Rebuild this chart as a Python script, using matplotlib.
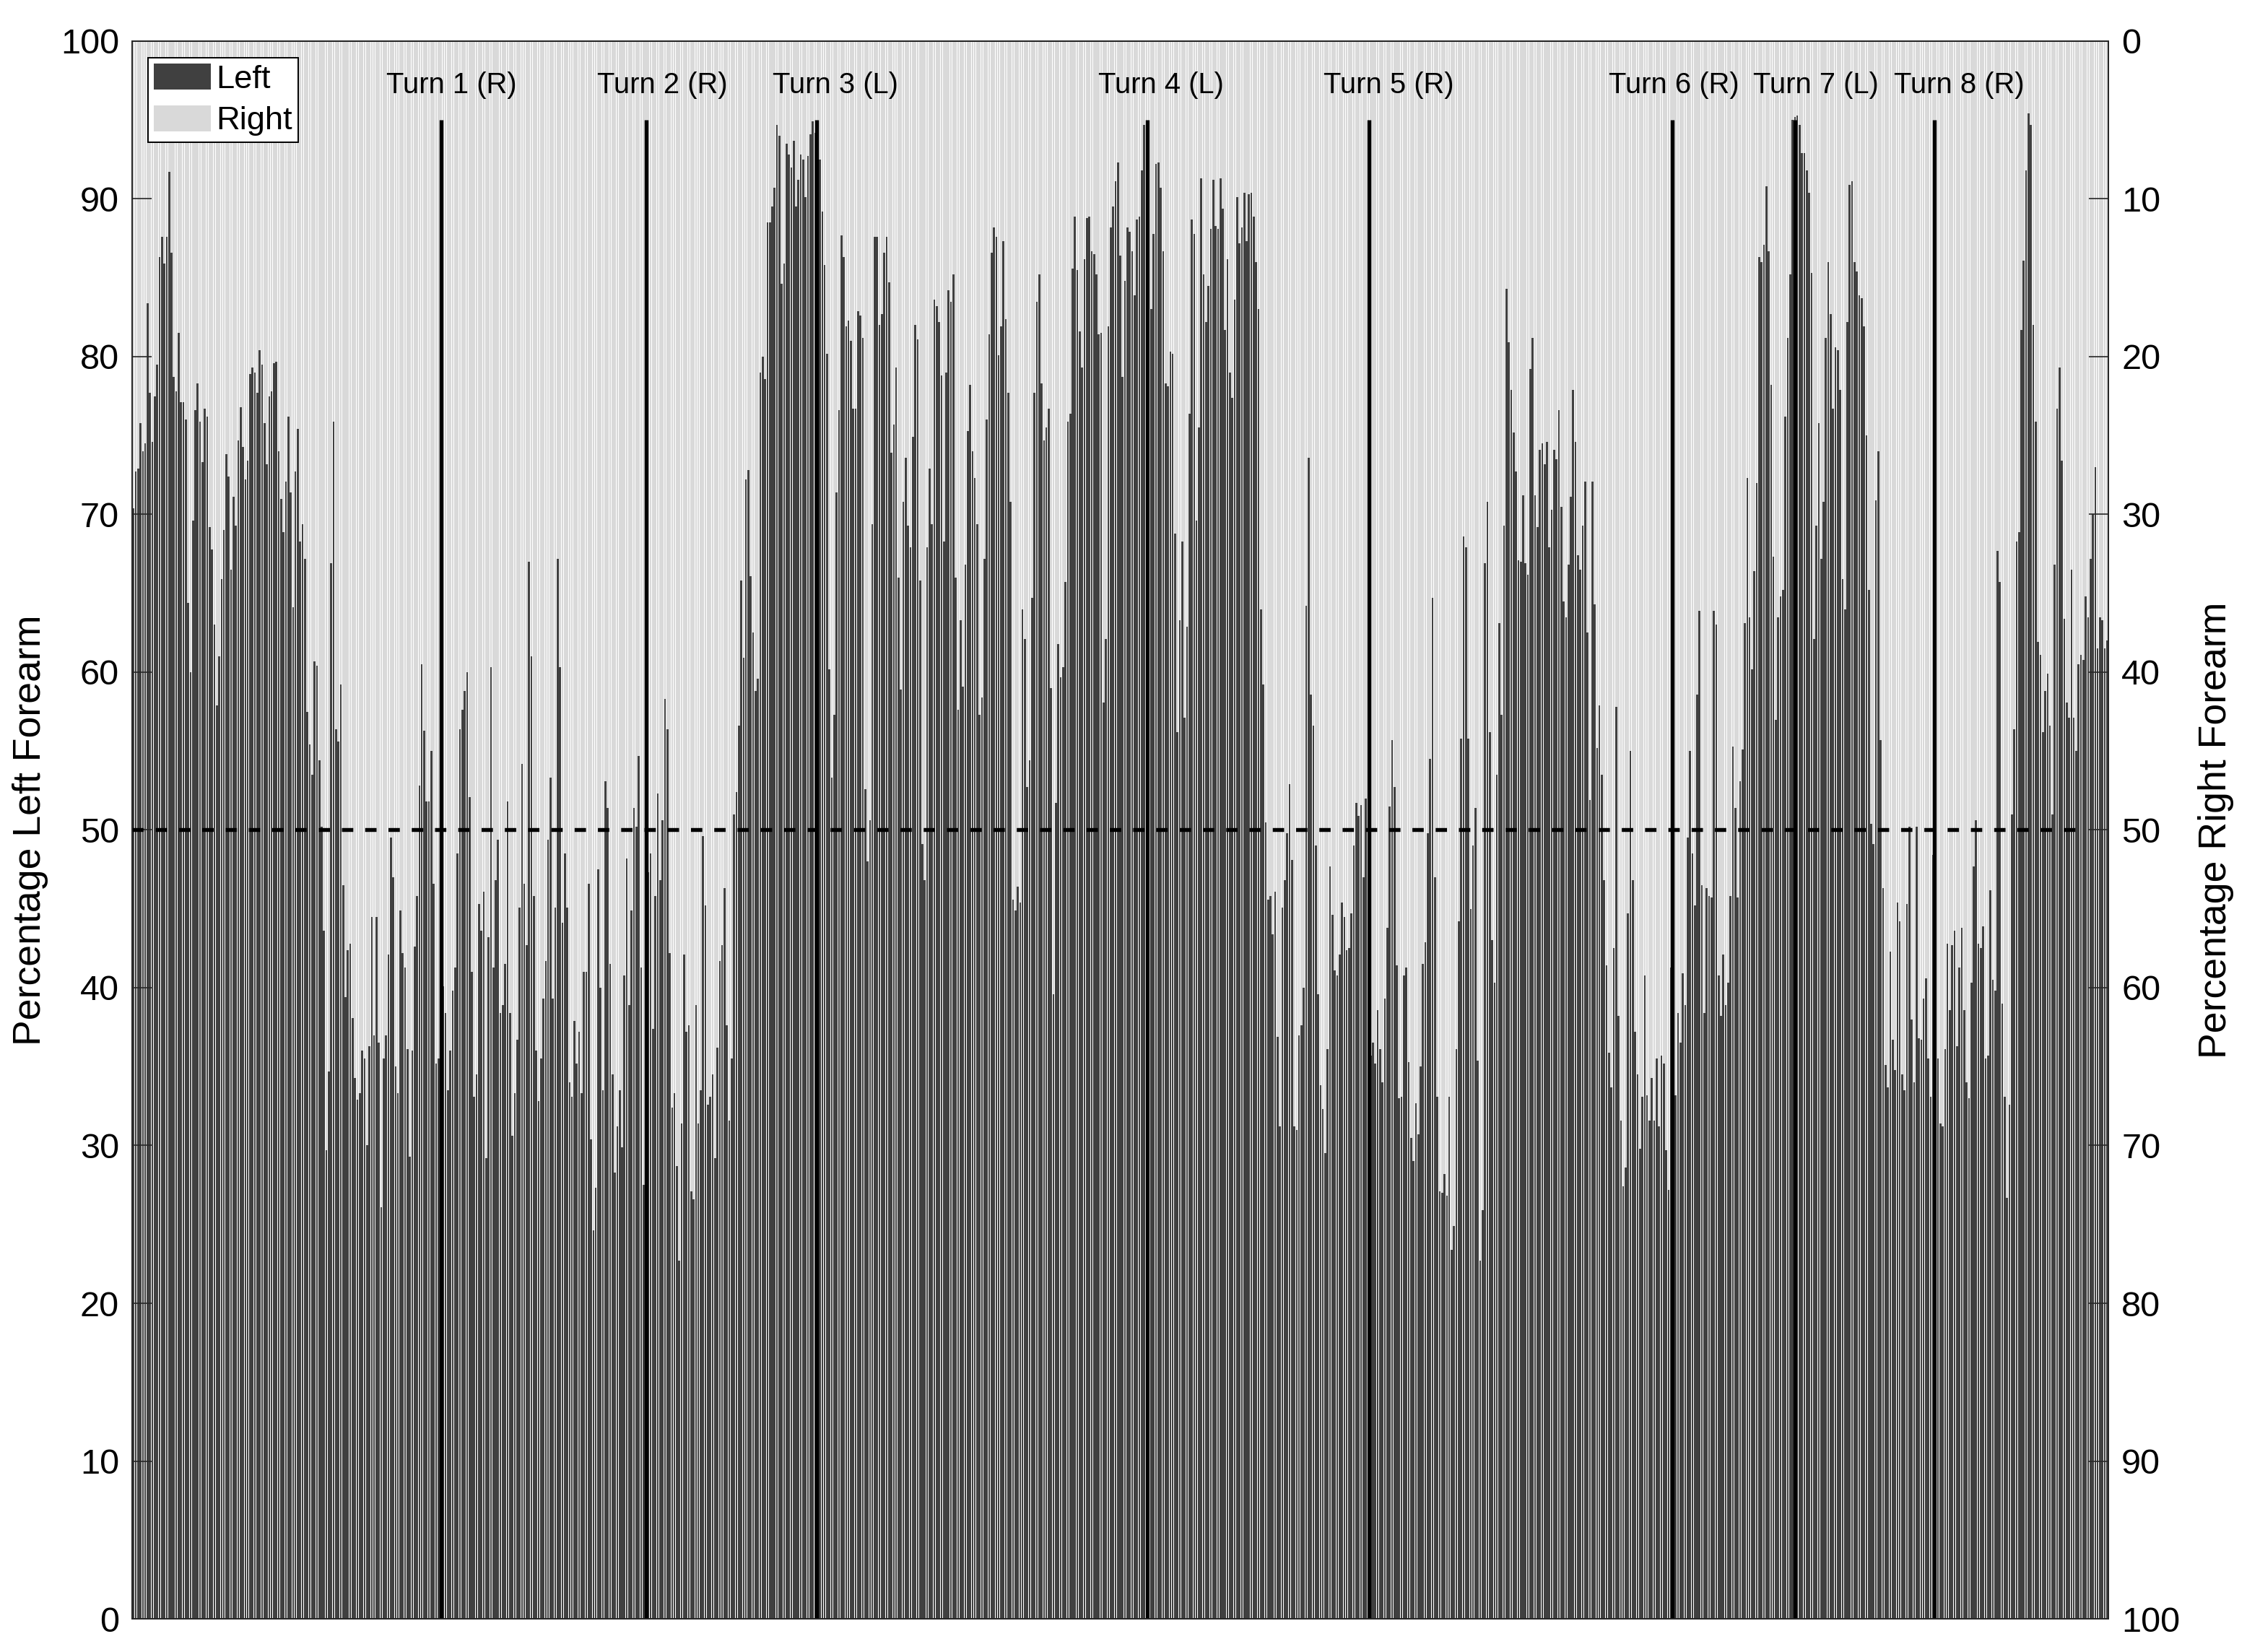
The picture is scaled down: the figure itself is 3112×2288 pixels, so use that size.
import matplotlib
matplotlib.use("Agg")
import matplotlib.pyplot as plt
import numpy as np

# Percentage of left forearm for each sample, grouped by the turns that separate them
seg0 = [70.4, 72.7, 72.9, 75.8, 74.0, 74.5, 83.4, 77.7, 74.6, 77.5,
        79.5, 86.3, 87.6, 85.9, 87.6, 91.7, 86.6, 78.7, 77.8, 81.5,
        77.1, 77.1, 76.0, 64.4, 60.0, 69.6, 76.6, 78.3, 75.9, 73.3,
        76.7, 76.2, 69.2, 67.8, 63.0, 57.9, 61.0, 65.9, 69.0, 73.8,
        72.4, 66.5, 71.1, 69.3, 74.7, 76.8, 74.3, 72.2, 73.4, 78.9,
        79.3, 79.0, 77.7, 80.4, 79.5, 75.8, 73.2, 77.5, 77.8, 79.6,
        79.7, 74.0, 71.0, 68.9, 72.1, 76.2, 71.4, 64.1, 72.7, 75.4,
        68.3, 69.4, 67.2, 57.5, 55.4, 53.5, 60.7, 60.4, 54.4, 50.2,
        43.6, 29.7, 34.7, 66.9, 75.9, 56.4, 55.6, 59.2, 46.5, 39.4,
        42.4, 42.8, 38.1, 34.3, 32.9, 33.3, 36.0, 35.5, 30.0, 36.3,
        44.5, 37.0, 44.5, 36.5, 26.1, 35.5, 37.0, 42.1, 49.5, 47.0,
        35.0, 33.3, 44.9, 42.2, 41.3, 36.1, 29.3, 36.0, 42.6, 45.8,
        52.8, 60.5, 56.3, 51.8, 51.8, 55.0, 46.6, 35.2, 35.5, 36.1]
seg1 = [40.1, 38.4, 33.5, 36.0, 39.8, 41.3, 48.5, 56.4, 57.6, 58.8,
        60.0, 52.1, 41.0, 33.1, 34.5, 45.3, 43.6, 46.1, 29.2, 43.2,
        60.3, 41.3, 46.8, 49.4, 38.4, 38.9, 41.5, 51.8, 38.4, 30.6,
        33.3, 36.7, 45.1, 54.2, 46.6, 42.7, 67.0, 61.0, 45.8, 36.0,
        32.8, 35.5, 39.3, 41.7, 49.4, 53.3, 39.3, 45.1, 67.2, 60.3,
        44.1, 48.5, 45.1, 34.0, 33.1, 37.9, 35.2, 37.2, 33.3, 41.0,
        41.0, 46.6, 30.4, 24.6, 27.3, 47.5, 40.0, 33.5, 53.1, 51.4,
        41.5, 34.5, 28.3, 31.2, 33.5, 29.9, 40.8, 48.2, 38.9, 44.9,
        51.4, 50.2, 54.7, 41.3, 27.5]
seg2 = [51.6, 47.3, 48.5, 37.4, 45.8, 52.3, 46.8, 50.6, 58.3, 56.4,
        42.2, 32.4, 33.3, 28.7, 22.7, 31.4, 42.1, 37.2, 37.6, 27.1,
        26.6, 38.9, 31.4, 33.5, 49.6, 45.2, 32.6, 33.1, 34.5, 29.2,
        36.2, 41.7, 42.7, 46.3, 37.6, 31.6, 35.5, 51.0, 52.4, 56.6,
        65.8, 60.9, 72.2, 72.8, 66.1, 62.5, 58.8, 59.6, 79.0, 80.0,
        78.6, 88.5, 88.5, 89.5, 90.7, 94.7, 94.0, 84.6, 85.9, 93.5,
        92.8, 92.0, 93.7, 89.5, 91.2, 92.8, 92.5, 90.1, 92.7, 94.1,
        94.9, 94.2]
seg3 = [94.7, 92.5, 89.2, 85.8, 80.2, 60.2, 53.3, 57.3, 71.4, 76.6,
        87.7, 86.3, 81.9, 82.3, 81.0, 76.7, 76.7, 82.9, 82.6, 81.2,
        52.6, 48.0, 50.6, 69.4, 87.6, 87.6, 82.0, 82.7, 86.6, 87.6,
        84.7, 73.9, 75.7, 79.3, 66.0, 58.9, 70.8, 73.6, 69.3, 67.9,
        74.9, 82.0, 81.1, 65.8, 49.1, 46.8, 67.9, 72.9, 69.4, 83.6,
        83.2, 82.2, 78.8, 68.3, 79.0, 84.2, 83.5, 85.2, 66.0, 57.6,
        63.3, 59.1, 66.8, 75.3, 78.2, 74.0, 72.3, 69.4, 57.3, 58.4,
        67.2, 76.0, 81.4, 86.6, 88.2, 87.6, 80.1, 81.9, 87.3, 82.4,
        77.7, 70.8, 45.6, 44.9, 46.4, 45.4, 64.0, 62.1, 52.7, 54.4,
        64.7, 77.7, 83.5, 85.2, 78.3, 74.7, 75.5, 76.7, 59.0, 39.6,
        51.7, 61.8, 59.7, 60.3, 65.7, 75.9, 76.4, 85.6, 88.9, 85.5,
        81.6, 79.3, 86.2, 88.8, 88.9, 86.7, 86.5, 85.2, 81.4, 81.5,
        58.1, 62.1, 81.9, 88.2, 89.5, 91.1, 92.3, 86.4, 78.7, 84.8,
        88.2, 87.9, 86.7, 83.9, 88.7, 88.9, 91.8, 94.7]
seg4 = [91.6, 90.8, 83.0, 87.8, 92.2, 92.3, 90.7, 86.7, 78.3, 78.1,
        80.3, 80.2, 68.8, 56.2, 63.3, 68.3, 57.1, 62.9, 76.4, 88.7,
        87.8, 69.6, 75.5, 91.3, 85.2, 82.2, 84.5, 88.1, 91.2, 88.3,
        88.1, 91.3, 89.4, 81.7, 86.2, 79.0, 77.4, 83.6, 90.1, 87.2,
        88.2, 90.4, 87.3, 90.3, 90.4, 88.9, 86.0, 83.0, 64.0, 59.2,
        50.5, 45.6, 45.8, 43.4, 46.1, 36.9, 31.2, 45.1, 46.8, 49.8,
        52.9, 48.1, 31.2, 31.0, 37.0, 37.6, 40.0, 64.2, 73.6, 58.6,
        56.6, 49.0, 39.6, 33.8, 32.3, 29.5, 36.1, 47.7, 44.6, 41.1,
        40.8, 42.1, 45.4, 44.5, 42.4, 42.5, 44.7, 49.0, 51.7, 50.9,
        51.6, 47.0, 52.0]
seg5 = [36.2, 35.7, 36.5, 35.2, 38.6, 36.1, 34.0, 39.3, 43.8, 51.5,
        55.7, 52.7, 41.4, 33.0, 33.1, 40.8, 41.3, 35.3, 30.5, 29.0,
        32.7, 30.7, 35.0, 41.5, 42.9, 49.8, 54.5, 64.7, 47.0, 33.1,
        27.1, 27.0, 28.2, 26.8, 33.1,
        23.4, 24.9, 36.1, 44.2, 55.8, 68.6, 67.9, 55.8, 45.0, 49.0,
        51.4, 35.4, 22.7, 25.9, 66.9, 70.8, 56.2, 43.0, 40.3, 53.5,
        63.1, 57.3, 69.3, 84.3, 80.9, 77.9, 75.2, 72.7, 67.1, 67.0,
        71.2, 66.9, 66.2, 79.2, 81.2, 71.2, 69.2, 74.1, 74.5, 73.2,
        74.6, 67.9, 70.3, 74.1, 73.5, 76.6, 70.5, 64.5, 63.5, 66.8,
        71.1, 77.9, 74.6, 67.4, 66.5, 69.3, 72.1, 62.5, 51.9, 72.1,
        64.3, 55.2, 57.9, 53.5, 46.8, 41.4, 35.9, 33.7, 42.5, 57.8,
        38.2, 31.6, 27.4, 28.6, 44.7, 55.0, 46.8, 37.2, 34.5, 29.8,
        33.1, 40.8, 33.2, 31.6, 34.3, 31.6, 35.5, 31.2, 35.7, 35.2,
        29.7, 27.2]
seg6 = [41.3, 34.5, 33.2, 38.4, 36.5, 40.9, 38.9, 49.5, 55.0, 48.5,
        45.2, 58.6, 63.9, 46.5, 38.4, 46.3, 45.8, 45.7, 63.9, 63.0,
        40.8, 38.2, 42.1, 38.9, 40.3, 45.8, 55.3, 51.4, 45.7, 53.1,
        55.1, 63.1, 72.3, 63.5, 60.2, 66.4, 72.0, 86.3, 86.0, 87.1,
        90.8, 86.7, 78.2, 67.3, 57.0, 63.5, 64.8, 65.2, 76.2, 81.2,
        85.2, 95.0]
seg7 = [95.2, 95.3, 94.7, 92.9, 92.9, 91.8, 90.4, 85.3, 62.1, 69.3,
        75.8, 67.2, 70.8, 81.2, 86.0, 82.7, 76.7, 80.6, 80.4, 77.9,
        65.9, 64.0, 82.2, 90.9, 91.1, 86.0, 85.4, 83.9, 83.7, 81.9,
        75.0, 65.2, 50.4, 49.1, 70.9, 74.0, 55.7, 46.3, 35.1, 33.7,
        42.3, 36.7, 34.8, 45.4, 44.2, 34.5, 33.5, 45.3, 50.2, 38.0,
        34.0, 50.2, 36.8, 36.7, 39.3, 40.6, 35.5, 33.1]
seg8 = [48.4, 42.7, 35.5, 31.4, 31.2, 36.1, 42.8, 38.6, 42.7, 43.6,
        36.3, 41.3, 43.8, 38.6, 34.0, 33.0, 40.3, 47.7, 50.6, 42.8,
        42.5, 43.9, 35.5, 35.7, 46.2, 40.5, 39.8, 67.7, 65.7, 39.0,
        33.1, 26.7, 32.6, 51.0, 56.4, 68.3, 68.9, 81.7, 86.1, 91.8,
        95.4, 94.7, 82.0, 75.9, 61.9, 61.1, 56.2, 58.8, 59.9, 56.6,
        51.0, 66.8, 76.7, 79.3, 73.4, 63.4, 58.1, 57.1, 66.5, 57.1,
        55.0, 60.5, 61.1, 60.8, 64.8, 63.5, 67.2, 70.0, 73.0, 61.5,
        63.5, 63.3, 61.5, 62.0]

turn_labels = ["Turn 1 (R)", "Turn 2 (R)", "Turn 3 (L)", "Turn 4 (L)",
               "Turn 5 (R)", "Turn 6 (R)", "Turn 7 (L)", "Turn 8 (R)"]
turn_at = [129.0, 215.2, 286.7, 425.4, 518.4, 645.4, 697.0, 755.4]
label_at = [133.4, 221.8, 294.5, 431.0, 526.6, 646.2, 705.7, 765.8]
turn_top = 95
label_y = 97.2
ref_level = 50
ref_end = 816.5
yticks = list(range(0, 101, 10))

left = np.array(seg0 + seg1 + seg2 + seg3 + seg4 + seg5 + seg6 + seg7 + seg8)
right = 100 - left
x = np.arange(len(left))

plt.rcParams['font.family'] = ['Liberation Sans', 'DejaVu Sans']

fig = plt.figure(figsize=(15.56, 11.44), dpi=200)
ax = fig.add_axes([0.05881, 0.0201, 0.8795, 0.9550])

ax.bar(x, left, width=0.8, color='#404040', linewidth=0, label='Left')
ax.bar(x, right, bottom=left, width=0.8, color='#d9d9d9', linewidth=0, label='Right')

ax.vlines(turn_at, 0, turn_top, colors='black', linewidth=1.95, zorder=4)
ax.hlines(ref_level, -0.5, ref_end, colors='black', linewidth=1.95,
          linestyles=(0, (2.9, 3.05)), zorder=4)
for lx, lab in zip(label_at, turn_labels):
    ax.text(lx, label_y, lab, ha='center', va='center', fontsize=14.4, zorder=5)

ax.set_xlim(-0.5, len(left) - 0.5)
ax.set_ylim(0, 100)
ax.set_xticks([])
ax.set_yticks(yticks)
ax.tick_params(axis='y', direction='in', length=9.8, width=0.6, labelsize=17.5,
               pad=6.5, color='#262626')
ax.set_ylabel('Percentage Left Forearm', fontsize=19.3)
ax.yaxis.set_label_coords(-0.0424, 0.5)

ax2 = ax.twinx()
ax2.set_ylim(100, 0)
ax2.set_yticks(yticks)
ax2.tick_params(axis='y', direction='in', length=9.8, width=0.6, labelsize=17.5,
                pad=6.5, color='#262626')
ax2.set_ylabel('Percentage Right Forearm', fontsize=19.3)
ax2.yaxis.set_label_coords(1.0453, 0.5)

for a in (ax, ax2):
    for s in a.spines.values():
        s.set_linewidth(0.7)
        s.set_color('#262626')

leg = ax.legend(loc='upper left', bbox_to_anchor=(0.008, 0.9895), borderaxespad=0,
                frameon=True, fancybox=False, edgecolor='black', framealpha=1,
                fontsize=16.3, handlelength=1.75, handleheight=0.85,
                handletextpad=0.15, borderpad=0.18, labelspacing=0.33)
leg.get_frame().set_linewidth(0.7)
leg.set_zorder(6)

fig.savefig('out.png', dpi=200, facecolor='white')
